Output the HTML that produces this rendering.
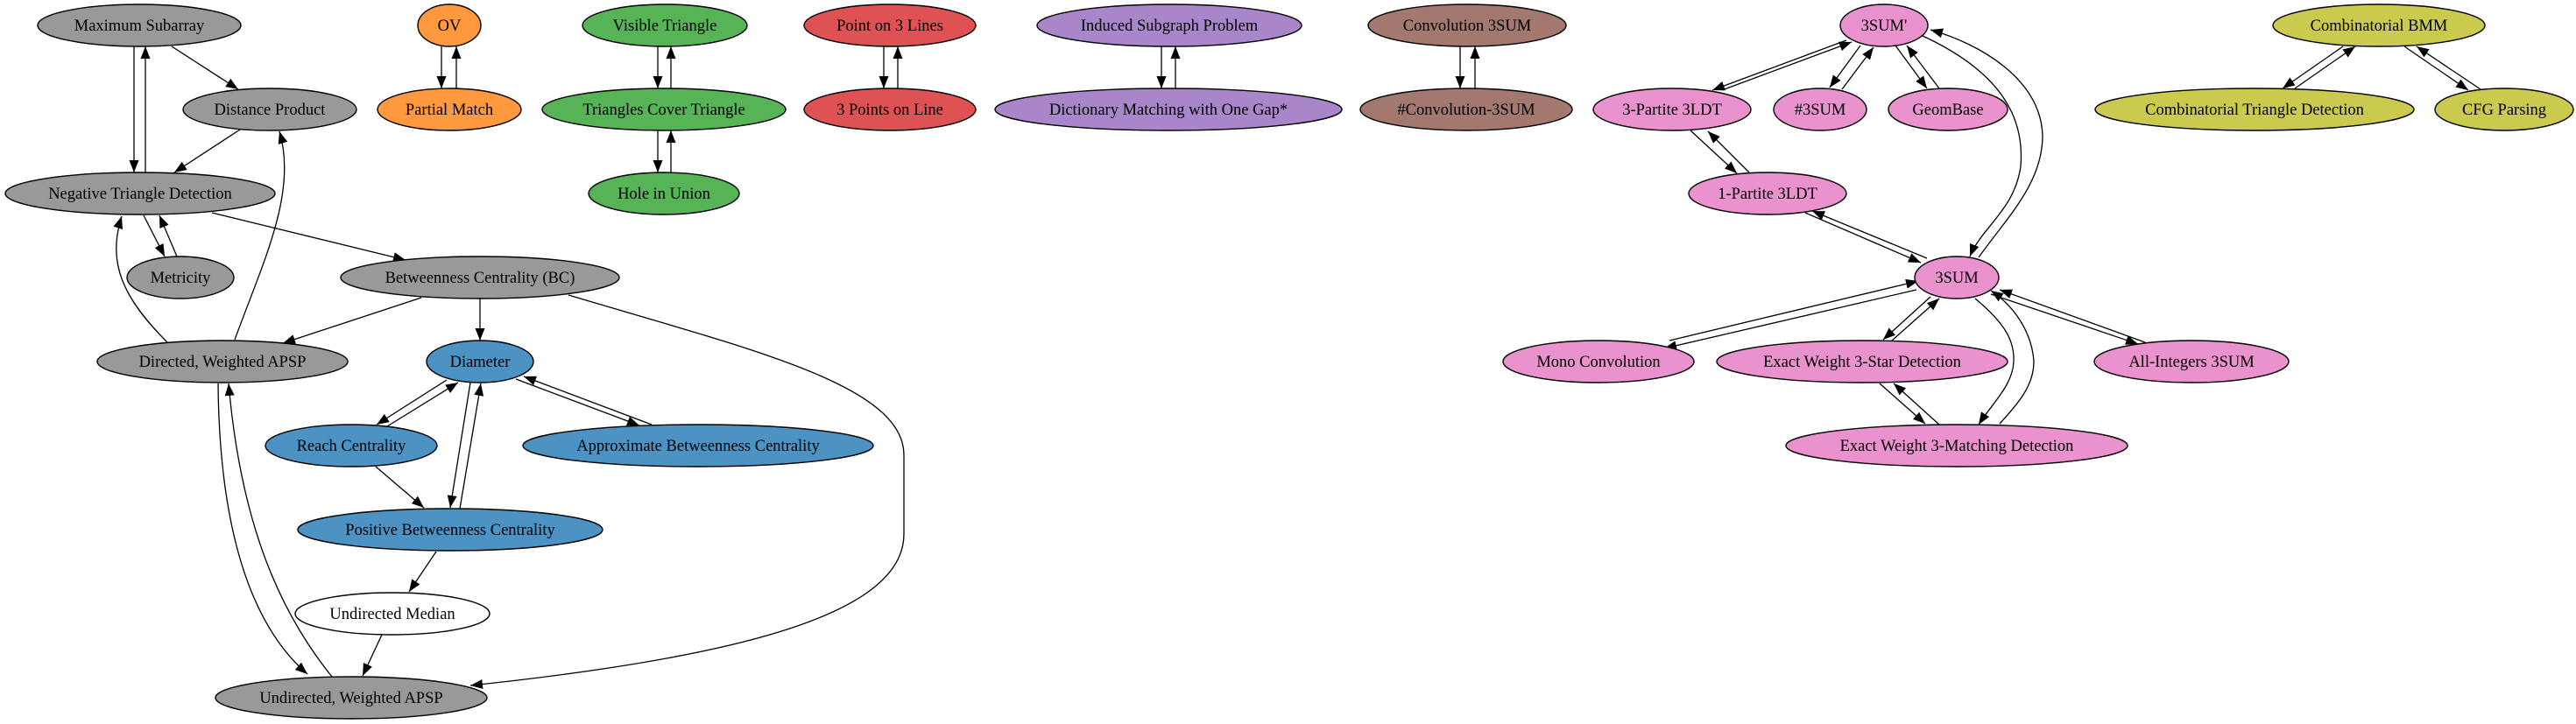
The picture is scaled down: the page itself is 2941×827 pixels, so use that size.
<!DOCTYPE html>
<html><head><meta charset="utf-8"><style>
html,body{margin:0;padding:0;background:#fff;}
svg{display:block;}
text{font-family:"Liberation Serif","DejaVu Serif",serif;font-size:18.5px;text-anchor:middle;fill:#000;}
ellipse{stroke:#000;stroke-width:1.4;}
path.e{fill:none;stroke:#000;stroke-width:1.3;marker-end:url(#a);}
</style></head><body>
<svg width="2941" height="827" viewBox="0 0 2941 827" xmlns="http://www.w3.org/2000/svg">
<defs><marker id="a" markerUnits="userSpaceOnUse" markerWidth="15" markerHeight="11" refX="14" refY="5.5" orient="auto"><path d="M0,0 L14,5.5 L0,11 z" fill="#000"/></marker></defs>

<!-- edges -->
<path class="e" d="M153,53 L153,197"/>
<path class="e" d="M166,197 L166,53"/>
<path class="e" d="M196,53 L272,102"/>
<path class="e" d="M274,148 L199,197"/>
<path class="e" d="M504,53 L504,101"/>
<path class="e" d="M521,101 L521,53"/>
<path class="e" d="M751,53 L751,101"/>
<path class="e" d="M766,101 L766,53"/>
<path class="e" d="M751,149 L751,197"/>
<path class="e" d="M766,197 L766,149"/>
<path class="e" d="M1009,53 L1009,101"/>
<path class="e" d="M1025,101 L1025,53"/>
<path class="e" d="M1326,53 L1326,101"/>
<path class="e" d="M1342,101 L1342,53"/>
<path class="e" d="M1667,53 L1667,101"/>
<path class="e" d="M1684,101 L1684,53"/>
<path class="e" d="M164,246 L188,293"/>
<path class="e" d="M202,293 L182,246"/>
<path class="e" d="M242,243 L463,297"/>
<path class="e" d="M191,391 C140,340 122,300 139,247"/>
<path class="e" d="M268,388 C300,300 340,220 319,150"/>
<path class="e" d="M481,340 L323,392"/>
<path class="e" d="M548,341 L548,389"/>
<path class="e" d="M649,337 C860,400 1032,440 1032,520 L1032,610 C1032,700 850,750 537,783"/>
<path class="e" d="M249,438 C250,560 270,700 351,770"/>
<path class="e" d="M379,773 C320,700 275,600 261,438"/>
<path class="e" d="M510,434 L430,485"/>
<path class="e" d="M442,487 L523,437"/>
<path class="e" d="M537,437 L514,580"/>
<path class="e" d="M525,581 L549,438"/>
<path class="e" d="M589,433 L730,486"/>
<path class="e" d="M744,485 L598,430"/>
<path class="e" d="M429,533 L484,580"/>
<path class="e" d="M498,630 L467,676"/>
<path class="e" d="M436,725 L414,772"/>
<path class="e" d="M2108,46 L1955,103"/>
<path class="e" d="M1966,103 L2114,48"/>
<path class="e" d="M2124,52 L2089,100"/>
<path class="e" d="M2103,102 L2139,54"/>
<path class="e" d="M2164,52 L2200,101"/>
<path class="e" d="M2214,101 L2177,52"/>
<path class="e" d="M2193,40 C2280,80 2312,130 2307,190 C2300,240 2262,260 2249,293"/>
<path class="e" d="M2259,294 C2290,250 2332,210 2332,155 C2330,90 2260,50 2204,34"/>
<path class="e" d="M1930,149 L1983,198"/>
<path class="e" d="M1997,197 L1950,150"/>
<path class="e" d="M2061,243 L2193,300"/>
<path class="e" d="M2200,295 L2069,241"/>
<path class="e" d="M2188,331 L1900,398"/>
<path class="e" d="M1906,389 L2190,321"/>
<path class="e" d="M2204,339 L2150,388"/>
<path class="e" d="M2160,389 L2214,341"/>
<path class="e" d="M2255,341 C2290,370 2300,390 2299,413 C2298,440 2275,460 2259,485"/>
<path class="e" d="M2283,484 C2305,460 2322,440 2322,413 C2320,380 2300,350 2273,332"/>
<path class="e" d="M2273,336 L2441,393"/>
<path class="e" d="M2449,391 L2283,331"/>
<path class="e" d="M2146,438 L2198,484"/>
<path class="e" d="M2214,485 L2162,438"/>
<path class="e" d="M2675,53 L2606,101"/>
<path class="e" d="M2620,101 L2689,53"/>
<path class="e" d="M2745,53 L2818,103"/>
<path class="e" d="M2832,102 L2759,53"/>

<!-- nodes -->
<g>
<ellipse cx="159" cy="29" rx="116" ry="24" fill="#999999"/><text x="159" y="35">Maximum Subarray</text>
<ellipse cx="513" cy="29" rx="36" ry="24" fill="#ff993e"/><text x="513" y="35">OV</text>
<ellipse cx="759" cy="29" rx="94" ry="24" fill="#56b356"/><text x="759" y="35">Visible Triangle</text>
<ellipse cx="1016" cy="29" rx="98" ry="24" fill="#de5253"/><text x="1016" y="35">Point on 3 Lines</text>
<ellipse cx="1335" cy="29" rx="151" ry="24" fill="#a985ca"/><text x="1335" y="35">Induced Subgraph Problem</text>
<ellipse cx="1675" cy="29" rx="113" ry="24" fill="#a3786f"/><text x="1675" y="35">Convolution 3SUM</text>
<ellipse cx="2151" cy="29" rx="50" ry="24" fill="#e992ce"/><text x="2151" y="35">3SUM'</text>
<ellipse cx="2716" cy="29" rx="121" ry="24" fill="#caca4e"/><text x="2716" y="35">Combinatorial BMM</text>

<ellipse cx="308" cy="125" rx="99" ry="24" fill="#999999"/><text x="308" y="131">Distance Product</text>
<ellipse cx="513" cy="125" rx="82" ry="24" fill="#ff993e"/><text x="513" y="131">Partial Match</text>
<ellipse cx="758" cy="125" rx="139" ry="24" fill="#56b356"/><text x="758" y="131">Triangles Cover Triangle</text>
<ellipse cx="1016" cy="125" rx="98" ry="24" fill="#de5253"/><text x="1016" y="131">3 Points on Line</text>
<ellipse cx="1334" cy="125" rx="198" ry="24" fill="#a985ca"/><text x="1334" y="131">Dictionary Matching with One Gap*</text>
<ellipse cx="1674" cy="125" rx="121" ry="24" fill="#a3786f"/><text x="1674" y="131">#Convolution-3SUM</text>
<ellipse cx="1909" cy="125" rx="90" ry="24" fill="#e992ce"/><text x="1909" y="131">3-Partite 3LDT</text>
<ellipse cx="2078" cy="125" rx="53" ry="24" fill="#e992ce"/><text x="2078" y="131">#3SUM</text>
<ellipse cx="2224" cy="125" rx="68" ry="24" fill="#e992ce"/><text x="2224" y="131">GeomBase</text>
<ellipse cx="2574" cy="125" rx="182" ry="24" fill="#caca4e"/><text x="2574" y="131">Combinatorial Triangle Detection</text>
<ellipse cx="2859" cy="125" rx="79" ry="24" fill="#caca4e"/><text x="2859" y="131">CFG Parsing</text>

<ellipse cx="160" cy="221" rx="154" ry="24" fill="#999999"/><text x="160" y="227">Negative Triangle Detection</text>
<ellipse cx="758" cy="221" rx="86" ry="24" fill="#56b356"/><text x="758" y="227">Hole in Union</text>
<ellipse cx="2018" cy="221" rx="90" ry="24" fill="#e992ce"/><text x="2018" y="227">1-Partite 3LDT</text>

<ellipse cx="206" cy="317" rx="61" ry="24" fill="#999999"/><text x="206" y="323">Metricity</text>
<ellipse cx="548" cy="317" rx="159" ry="24" fill="#999999"/><text x="548" y="323">Betweenness Centrality (BC)</text>
<ellipse cx="2234" cy="317" rx="48" ry="24" fill="#e992ce"/><text x="2234" y="323">3SUM</text>

<ellipse cx="254" cy="413" rx="143" ry="24" fill="#999999"/><text x="254" y="419">Directed, Weighted APSP</text>
<ellipse cx="548" cy="413" rx="61" ry="24" fill="#4c92c3"/><text x="548" y="419">Diameter</text>
<ellipse cx="1825" cy="413" rx="109" ry="24" fill="#e992ce"/><text x="1825" y="419">Mono Convolution</text>
<ellipse cx="2126" cy="413" rx="166" ry="24" fill="#e992ce"/><text x="2126" y="419">Exact Weight 3-Star Detection</text>
<ellipse cx="2502" cy="413" rx="111" ry="24" fill="#e992ce"/><text x="2502" y="419">All-Integers 3SUM</text>

<ellipse cx="401" cy="509" rx="98" ry="24" fill="#4c92c3"/><text x="401" y="515">Reach Centrality</text>
<ellipse cx="797" cy="509" rx="200" ry="24" fill="#4c92c3"/><text x="797" y="515">Approximate Betweenness Centrality</text>
<ellipse cx="2234" cy="509" rx="195" ry="24" fill="#e992ce"/><text x="2234" y="515">Exact Weight 3-Matching Detection</text>

<ellipse cx="514" cy="605" rx="174" ry="24" fill="#4c92c3"/><text x="514" y="611">Positive Betweenness Centrality</text>
<ellipse cx="448" cy="701" rx="111" ry="24" fill="#ffffff"/><text x="448" y="707">Undirected Median</text>
<ellipse cx="401" cy="797" rx="155" ry="24" fill="#999999"/><text x="401" y="803">Undirected, Weighted APSP</text>
</g>
</svg>
</body></html>
